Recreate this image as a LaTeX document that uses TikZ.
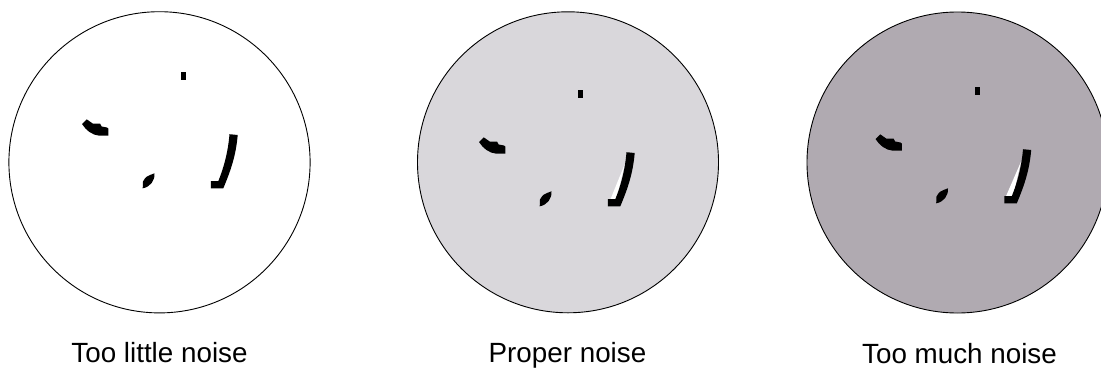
\documentclass[tikz,border=0pt]{standalone}
\usepackage{fontspec}
\setmainfont{Liberation Sans}
\usetikzlibrary{positioning}
\definecolor{proper}{RGB}{217,215,219}
\definecolor{toomuch}{RGB}{176,170,177}
\tikzset{
  disc/.style  ={draw=black,line width=0.9pt},
  blob/.style  ={fill=black,draw=none},
  gap/.style   ={fill=white,draw=none},
  lbl/.style   ={font=\fontsize{27.8}{30}\selectfont,anchor=base,inner sep=0pt,
                 text depth=0pt},
}
% the four dark specks, drawn in the frame of the first disc
\newcommand{\specks}{%
  \fill[blob] (181,72) rectangle (186,80);
  \fill[blob] (86.7,119.3) -- (92.7,123.5) -- (100,123.5) -- (101.7,126.5)
    -- (107,127.5) -- (108.3,128.5) -- (108.3,135.5) -- (98.5,135.5)
    .. controls (93,135.3) and (86,130.5) .. (82,124) -- cycle;
  \fill[blob] (142.7,188.3) -- (143,181.5) .. controls (146,176.5) .. (154.5,173.3)
    .. controls (155,181) and (150,187) .. cycle;
  \fill[blob] (229.5,134.2) -- (237.7,135) .. controls (236,155) and (231,170) .. (223.3,188.3)
    -- (210.8,188.3) -- (210.8,181.2) -- (218.3,181.2)
    .. controls (224,167) and (228,152) .. cycle;
}
\newcommand{\sliver}[1]{%
  \fill[gap] (227.8,146) -- (#1,181.2) -- (219.5,181.2) -- cycle;
}

\begin{document}
\begin{tikzpicture}[x=1pt,y=-1pt]
\useasboundingbox (0,0) rectangle (1101,367);
\clip (0,0) rectangle (1101,367);
% too little
\draw[disc,fill=white] (159.5,162.3) circle (150.6);
\specks
\node[lbl] (little) at (159.5,362) {Too little noise};
% proper
\draw[disc,fill=proper] (568,162.3) circle (150.5);
\begin{scope}[shift={(397,18)}]
  \sliver{213.5}
  \specks
\end{scope}
\node[lbl] (proper) at (567.5,362) {Proper noise};
% too much
\draw[disc,fill=toomuch] (957.5,162.5) circle (150.5);
\begin{scope}[shift={(793.5,15)}]
  \sliver{212.5}
  \specks
\end{scope}
\node[lbl] (much) at (959.5,363.3) {Too much noise};
\end{tikzpicture}
\end{document}
